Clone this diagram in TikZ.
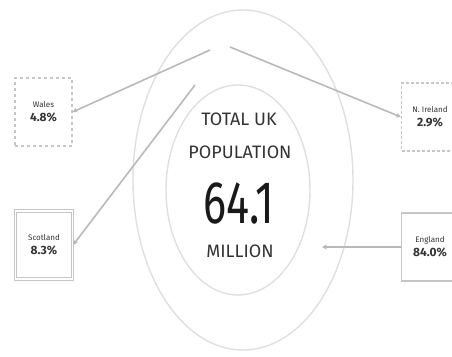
\documentclass[tikz,border=0pt]{standalone}
\usepackage{fontspec}
\setmainfont{Fira Sans}
\usetikzlibrary{arrows.meta}
\begin{document}
\begin{tikzpicture}[x=1pt, y=-1pt, every node/.style={font=\small, text=gray!40!black},
  ring/.style={draw=gray!25, line width=1.4pt},
  tag/.style={draw=gray!45, line width=1.2pt, minimum width=57pt, minimum height=68pt, align=center, inner sep=2pt},
  link/.style={draw=gray!55, line width=1.6pt, -{Stealth[length=5pt, width=5pt]}},
  big/.style={font=\fontsize{18}{20}\selectfont}]
  \useasboundingbox (0,0) rectangle (452,356);
  \draw[ring] (243,180) ellipse [x radius=110, y radius=170];
  \draw[ring] (238,190) ellipse [x radius=72, y radius=105];
  \node[big] (T1) at (239,119) {TOTAL UK};
  \node[big] (T2) at (240,152) {POPULATION};
  \node[xscale=0.72, font=\fontsize{60}{60}\selectfont, text=gray!20!black] (N) at (239,203) {64.1};
  \node[big] (T3) at (240,251) {MILLION};
  \node[tag, dashed] (W) at (43.5,112) {{\footnotesize Wales}\\[3pt]{\large\bfseries 4.8\%}};
  \node[tag, double, double distance=1.5pt] (S) at (44,245) {{\footnotesize Scotland}\\[3pt]{\large\bfseries 8.3\%}};
  \node[tag, densely dashed] (NI) at (430,117) {{\footnotesize N. Ireland}\\[3pt]{\large\bfseries 2.9\%}};
  \node[tag] (E) at (430,247) {{\footnotesize England}\\[3pt]{\large\bfseries 84.0\%}};
  \coordinate (w) at (210,50);
  \coordinate (s) at (195,85);
  \coordinate (n) at (230,47);
  \coordinate (e) at (322,247);
  \draw[link] (w) -- (W.east);
  \draw[link] (s) -- (S.east);
  \draw[link] (n) -- (NI.west);
  \draw[link] (E.west) -- (e);
\end{tikzpicture}
\end{document}
